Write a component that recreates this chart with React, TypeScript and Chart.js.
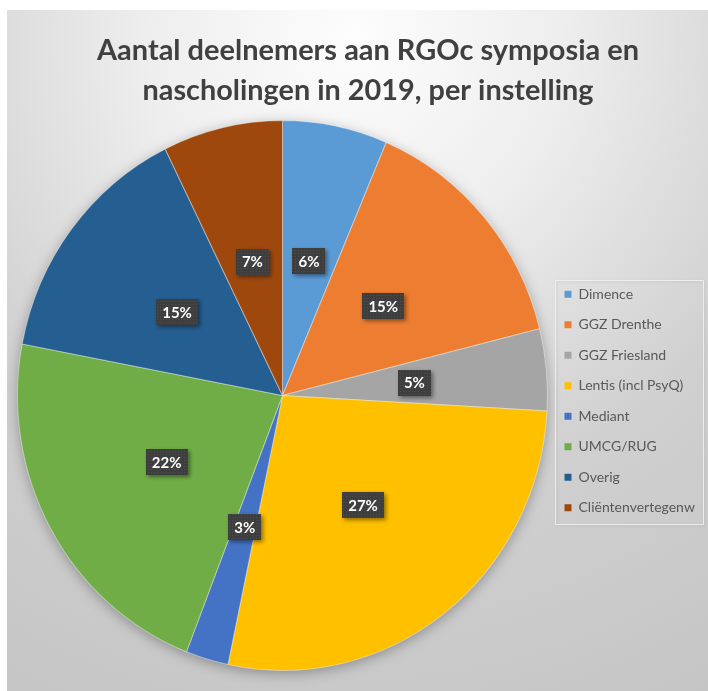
import { useEffect, useRef } from "react";
import { Chart, registerables } from "chart.js";

Chart.register(...registerables);

const categories = [
  "Dimence",
  "GGZ Drenthe",
  "GGZ Friesland",
  "Lentis (incl PsyQ)",
  "Mediant",
  "UMCG/RUG",
  "Overig",
  "Cliëntenvertegenw",
];
const shares = [6.4, 14.7, 4.8, 27.4, 2.6, 22.1, 14.7, 7.3];
const colors = ["#5B9BD5", "#ED7D31", "#A5A5A5", "#FFC000", "#4472C4", "#70AD47", "#255E91", "#9E480E"];
const titleLines = ["Aantal deelnemers aan RGOc symposia en", "nascholingen in 2019, per instelling"];

const STRETCH = 275 / 265;
const FONT = "Lato, 'Open Sans', sans-serif";

function makePattern(ctx: CanvasRenderingContext2D) {
  const c = document.createElement("canvas");
  c.width = 3;
  c.height = 3;
  const g = c.getContext("2d")!;
  g.fillStyle = "#3e3e3e";
  g.fillRect(0, 0, 3, 3);
  g.fillStyle = "#4d4d4d";
  g.fillRect(1, 1, 1, 1);
  return ctx.createPattern(c, "repeat") || "#404040";
}

const decorPlugin = {
  id: "decor",
  beforeDatasetsDraw(chart: any) {
    const ctx: CanvasRenderingContext2D = chart.ctx;
    const arc = chart.getDatasetMeta(0).data[0];
    const { x, y, outerRadius } = arc.getProps(["x", "y", "outerRadius"], true);
    ctx.save();
    ctx.translate(x, y);
    ctx.scale(1, STRETCH);
    ctx.translate(-x, -y);
    ctx.save();
    ctx.shadowColor = "rgba(0,0,0,0.35)";
    ctx.shadowBlur = 14;
    ctx.shadowOffsetY = 3;
    ctx.fillStyle = "#999";
    ctx.beginPath();
    ctx.arc(x, y, outerRadius - 1, 0, Math.PI * 2);
    ctx.fill();
    ctx.restore();
  },
  afterDatasetsDraw(chart: any) {
    const ctx: CanvasRenderingContext2D = chart.ctx;
    ctx.restore();
    const meta = chart.getDatasetMeta(0);
    const total = shares.reduce((a, b) => a + b, 0);
    const pattern = makePattern(ctx);
    ctx.save();
    ctx.font = `bold 15px ${FONT}`;
    ctx.textAlign = "center";
    ctx.textBaseline = "middle";
    meta.data.forEach((arc: any, i: number) => {
      const p = arc.getCenterPoint(true);
      const cy = arc.y;
      const px = p.x;
      const py = cy + (p.y - cy) * STRETCH;
      const text = Math.round((shares[i] / total) * 100) + "%";
      const w = ctx.measureText(text).width + 12;
      const h = 26;
      ctx.save();
      ctx.shadowColor = "rgba(0,0,0,0.45)";
      ctx.shadowBlur = 4;
      ctx.shadowOffsetX = 2;
      ctx.shadowOffsetY = 2;
      ctx.fillStyle = pattern as any;
      ctx.fillRect(Math.round(px - w / 2), Math.round(py - h / 2), Math.round(w), h);
      ctx.restore();
      ctx.fillStyle = "#ffffff";
      ctx.fillText(text, px, py + 1);
    });
    ctx.restore();
  },
  afterDraw(chart: any) {
    const ctx: CanvasRenderingContext2D = chart.ctx;
    ctx.save();
    ctx.fillStyle = "#404040";
    ctx.font = `bold 29px ${FONT}`;
    ctx.textAlign = "center";
    ctx.textBaseline = "alphabetic";
    ctx.fillText(titleLines[0], 368, 60, 542);
    ctx.fillText(titleLines[1], 368, 100, 451);
    ctx.restore();
    const lg = chart.legend;
    const arc = chart.getDatasetMeta(0).data[0];
    const cy = arc.y;
    const left = lg.left + 7.5;
    const top = Math.round(cy - 115.5) + 0.5;
    const right = 703.5;
    const bottom = Math.round(cy + 128) + 0.5;
    ctx.save();
    ctx.shadowColor = "rgba(0,0,0,0.12)";
    ctx.shadowBlur = 3;
    ctx.shadowOffsetX = 1;
    ctx.shadowOffsetY = 1;
    ctx.strokeStyle = "rgba(240,240,240,0.9)";
    ctx.lineWidth = 1;
    ctx.strokeRect(left, top, right - left, bottom - top);
    ctx.restore();
  },
};

export default function App() {
  const ref = useRef<HTMLCanvasElement | null>(null);
  useEffect(() => {
    if (!ref.current) return;
    const chart = new Chart(ref.current, {
      type: "pie",
      data: {
        labels: categories,
        datasets: [
          {
            data: shares,
            backgroundColor: colors,
            borderColor: "rgba(255,255,255,0.4)",
            borderWidth: 1,
            hoverBorderWidth: 1,
            hoverOffset: 0,
          },
        ],
      },
      options: {
        animation: false,
        responsive: false,
        devicePixelRatio: 1,
        layout: { padding: { left: 17, right: 4, top: 130, bottom: 30 } },
        plugins: {
          tooltip: { enabled: false },
          legend: {
            position: "right",
            maxWidth: 156,
            title: { display: true, text: " ", padding: 0, font: { size: 11, lineHeight: 1 } },
            labels: {
              boxWidth: 7,
              boxHeight: 7,
              padding: 16.5,
              color: "#595959",
              font: { family: FONT, size: 14 },
              generateLabels: () =>
                categories.map((text, i) => ({
                  text,
                  fillStyle: colors[i],
                  strokeStyle: colors[i],
                  lineWidth: 0,
                  hidden: false,
                  index: i,
                  fontColor: "#595959",
                })),
            },
          },
        },
      } as any,
      plugins: [decorPlugin as any],
    });
    return () => chart.destroy();
  }, []);

  return (
    <div style={{ position: "fixed", left: 0, top: 0, width: 708, height: 691, background: "#ffffff" }}>
      <div
        style={{
          position: "absolute",
          left: 7,
          top: 10,
          width: 701,
          height: 681,
          background:
            "radial-gradient(circle 740px at 347px 30px, #fdfdfd 0%, #eeeeee 28%, #dedede 46%, #d0d0d0 63%, #c8c8c8 90%, #c5c5c5 100%)",
        }}
      />
      <canvas ref={ref} width={708} height={691} style={{ position: "absolute", left: 0, top: 0 }} />
    </div>
  );
}
